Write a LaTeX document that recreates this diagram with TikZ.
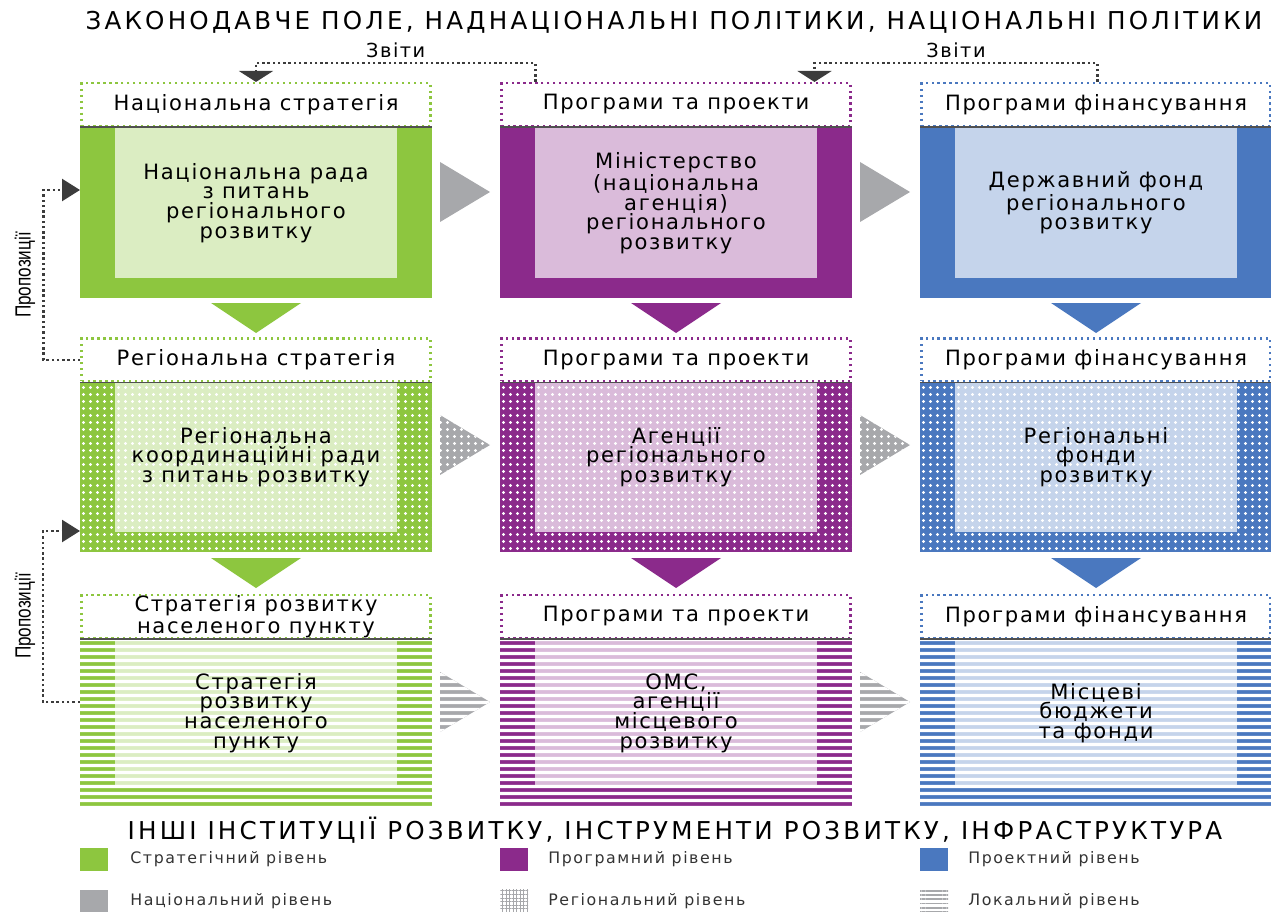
\documentclass[tikz,border=0pt]{standalone}
\usepackage{fontspec}
\setmainfont{DejaVu Sans}[LetterSpace=8]
\newfontfamily\narrowfont{Liberation Sans}[FakeStretch=0.78]
\usetikzlibrary{calc}
\usetikzlibrary{arrows.meta}
\usetikzlibrary{patterns.meta}

\definecolor{strat}{HTML}{8DC63F}
\definecolor{prog}{HTML}{8B2A8B}
\definecolor{proj}{HTML}{4A78BF}
\definecolor{natgray}{HTML}{A7A8AB}
\definecolor{arrgray}{HTML}{3C3C3C}

\tikzset{
  head/.style={draw=#1, line width=1.2pt, dash pattern=on 1.2pt off 2.2pt, fill=white,
    minimum width=6.98cm, minimum height=0.86cm, inner sep=0pt, align=center,
    font=\fontsize{12}{12.5}\selectfont},
  txt/.style={align=center, font=\fontsize{12}{11.2}\selectfont, inner sep=0pt},
  rep/.style={arrgray, line width=1.4pt, dash pattern=on 1.4pt off 1.6pt},
  swatch/.style={minimum width=0.56cm, minimum height=0.46cm, inner sep=0pt},
  keytxt/.style={anchor=west, font=\fontsize{9}{10}\selectfont\addfontfeature{LetterSpace=10}, text=black!80, inner sep=0pt},
  frame/.style={font=\fontsize{14}{16}\selectfont\addfontfeature{LetterSpace=13}},
  regdots/.style={pattern={Dots[radius=0.95pt, distance=0.14cm]}, pattern color=white},
  loclines/.style={pattern={Lines[distance=0.14cm, line width=0.065cm]}, pattern color=white},
}

\begin{document}
\begin{tikzpicture}[x=0.02cm, y=-0.02cm]
\useasboundingbox (0,0) rectangle (1271,912);

% national level
\foreach \cx/\c in {256/strat, 676/prog, 1096/proj} {
  \fill[fill=\c] (\cx-176,127) rectangle (\cx+176,298);
  \fill[fill=\c!32!white] (\cx-141,127) rectangle (\cx+141,278);
}
% regional level
\foreach \cx/\c in {256/strat, 676/prog, 1096/proj} {
  \fill[fill=\c] (\cx-176,382) rectangle (\cx+176,552);
  \fill[fill=\c!32!white] (\cx-141,382) rectangle (\cx+141,532);
  \fill[regdots] (\cx-176,382) rectangle (\cx+176,552);
}
% local level
\foreach \cx/\c in {256/strat, 676/prog, 1096/proj} {
  \fill[fill=\c] (\cx-176,638) rectangle (\cx+176,807);
  \fill[fill=\c!32!white] (\cx-141,638) rectangle (\cx+141,787);
  \fill[loclines] (\cx-176,638) rectangle (\cx+176,807);
}

% arrows between levels
\foreach \cx/\c in {256/strat, 676/prog, 1096/proj}
  \foreach \ty in {303, 558}
    \fill[fill=\c] (\cx-45,\ty) -- (\cx+45,\ty) -- (\cx,\ty+30) -- cycle;
\foreach \tx in {440, 860} {
  \fill[natgray] (\tx,162) -- (\tx+50,192) -- (\tx,222) -- cycle;
  \fill[natgray] (\tx,415) -- (\tx+50,445) -- (\tx,475) -- cycle;
  \fill[regdots] (\tx,415) -- (\tx+50,445) -- (\tx,475) -- cycle;
  \fill[natgray] (\tx,672) -- (\tx+50,702) -- (\tx,732) -- cycle;
  \fill[loclines] (\tx,672) -- (\tx+50,702) -- (\tx,732) -- cycle;
}

% headers
\node[head=strat] (h11) at (256,104.5) {Національна стратегія};
\node[head=prog]  (h12) at (676,104.5) {Програми та проекти};
\node[head=proj]  (h13) at (1096,104.5) {Програми фінансування};
\node[head=strat] (h21) at (256,360) {Регіональна стратегія};
\node[head=prog]  (h22) at (676,360) {Програми та проекти};
\node[head=proj]  (h23) at (1096,360) {Програми фінансування};
\node[head=strat] (h31) at (256,616.5) {Стратегія розвитку\\населеного пункту};
\node[head=prog]  (h32) at (676,616.5) {Програми та проекти};
\node[head=proj]  (h33) at (1096,616.5) {Програми фінансування};
\foreach \h in {h11,h12,h13,h21,h22,h23,h31,h32,h33}
  \draw[arrgray!90, line width=1pt] (\h.south west) -- (\h.south east);

% bodies
\node[txt] (t11) at (256,203) {Національна рада\\з питань\\регіонального\\розвитку};
\node[txt] (t12) at (676,203) {Міністерство\\(національна\\агенція)\\регіонального\\розвитку};
\node[txt] (t13) at (1096,203) {Державний фонд\\регіонального\\розвитку};
\node[txt] (t21) at (256,457) {Регіональна\\координаційні ради\\з питань розвитку};
\node[txt] (t22) at (676,457) {Агенції\\регіонального\\розвитку};
\node[txt] (t23) at (1096,457) {Регіональні\\фонди\\розвитку};
\node[txt] (t31) at (256,713) {Стратегія\\розвитку\\населеного\\пункту};
\node[txt] (t32) at (676,713) {ОМС,\\агенції\\місцевого\\розвитку};
\node[txt] (t33) at (1096,713) {Місцеві\\бюджети\\та фонди};

% reports and proposals
\draw[rep, -{Triangle[width=0.68cm, length=0.22cm]}] ($(h12.north west)+(35,0)$) -- ++(0,-19)
  -| node[pos=0.25, above=2pt, inner sep=0pt, text=black, font=\fontsize{11}{12}\selectfont] (zv1) {Звіти} (h11.north);
\coordinate (r2) at ($(h12.north east)+(-37,0)$);
\draw[rep, -{Triangle[width=0.68cm, length=0.22cm]}] ($(h13.north west)+(177,0)$) -- ++(0,-19)
  -| node[pos=0.25, above=2pt, inner sep=0pt, text=black, font=\fontsize{11}{12}\selectfont] (zv2) {Звіти} (r2);

\coordinate (p1) at (80,190);
\coordinate (q0) at (80,702);
\coordinate (q1) at (80,531);
\draw[rep, -{Triangle[width=0.44cm, length=0.36cm]}] (h21.west) -- ++(-37,0) |- (p1);
\draw[rep, -{Triangle[width=0.44cm, length=0.36cm]}] (q0) -- ++(-37,0) |- (q1);
\node[rotate=90, font=\narrowfont\fontsize{12.5}{12}\selectfont] (pr1) at (25,275) {Пропозиції};
\node[rotate=90, font=\narrowfont\fontsize{12.5}{12}\selectfont] (pr2) at (25,616) {Пропозиції};

% frame texts
\node[frame] (top) at (674,22) {ЗАКОНОДАВЧЕ ПОЛЕ, НАДНАЦІОНАЛЬНІ ПОЛІТИКИ, НАЦІОНАЛЬНІ ПОЛІТИКИ};
\node[frame] (bottom) at (675,830) {ІНШІ ІНСТИТУЦІЇ РОЗВИТКУ, ІНСТРУМЕНТИ РОЗВИТКУ, ІНФРАСТРУКТУРА};

% legend
\node[swatch, fill=strat] (k1) at (94,859) {};
\node[swatch, fill=prog]  (k2) at (514,859) {};
\node[swatch, fill=proj]  (k3) at (934,859) {};
\node[swatch, fill=natgray] (k4) at (94,901) {};
\node[swatch, fill=natgray!45, pattern={Hatch[distance=2pt, angle=0, line width=0.5pt]}, pattern color=natgray] (k5) at (514,901) {};
\node[swatch, pattern={Lines[distance=2.4pt, line width=1pt]}, pattern color=natgray] (k6) at (934,901) {};
\node[keytxt] (l1) at (130,859) {Стратегічний рівень};
\node[keytxt] (l2) at (548,859) {Програмний рівень};
\node[keytxt] (l3) at (968,859) {Проектний рівень};
\node[keytxt] (l4) at (130,901) {Національний рівень};
\node[keytxt] (l5) at (548,901) {Регіональний рівень};
\node[keytxt] (l6) at (968,901) {Локальний рівень};
\end{tikzpicture}
\end{document}
